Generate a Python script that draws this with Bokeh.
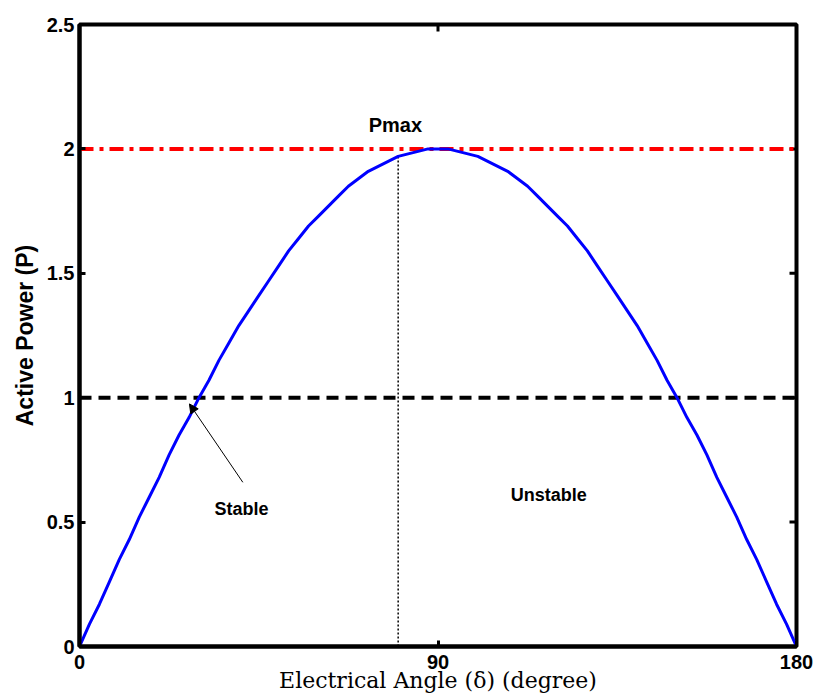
import math
from bokeh.plotting import figure
from bokeh.models import Range1d, FixedTicker, Arrow, NormalHead, Label
from bokeh.embed import file_html
from bokeh.resources import INLINE

# Data
delta_deg = [0, 2.5, 5, 7.5, 10, 12.5, 15, 17.5, 20, 22.5, 25, 27.5, 30, 32.5, 35, 37.5, 40, 42.5,
             45, 47.5, 50, 52.5, 55, 57.5, 60, 62.5, 65, 67.5, 70, 72.5, 75, 77.5, 80, 82.5, 85, 87.5,
             90, 92.5, 95, 97.5, 100, 102.5, 105, 107.5, 110, 112.5, 115, 117.5, 120, 122.5, 125, 127.5,
             130, 132.5, 135, 137.5, 140, 142.5, 145, 147.5, 150, 152.5, 155, 157.5, 160, 162.5, 165,
             167.5, 170, 172.5, 175, 177.5, 180]
power = [0.00, 0.09, 0.17, 0.26, 0.35, 0.43, 0.52, 0.60, 0.68, 0.77, 0.85, 0.92, 1.00, 1.07, 1.15, 1.22, 1.29, 1.35,
         1.41, 1.47, 1.53, 1.59, 1.64, 1.69, 1.73, 1.77, 1.81, 1.85, 1.88, 1.91, 1.93, 1.95, 1.97, 1.98, 1.99, 2.00,
         2.00, 2.00, 1.99, 1.98, 1.97, 1.95, 1.93, 1.91, 1.88, 1.85, 1.81, 1.77, 1.73, 1.69, 1.64, 1.59,
         1.53, 1.47, 1.41, 1.35, 1.29, 1.22, 1.15, 1.07, 1.00, 0.92, 0.85, 0.77, 0.68, 0.60, 0.52,
         0.43, 0.35, 0.26, 0.17, 0.09, 0.00]
pmax_level = 2.0
load_level = 1.0
marker_angle = 80
marker_power = 1.97
x_ticks = [0, 90, 180]
y_ticks = [0, 0.5, 1, 1.5, 2, 2.5]
x_label = "Electrical Angle (δ) (degree)"
y_label = "Active Power (P)"

FONT = "Liberation Sans"
X_MIN, X_MAX, Y_MIN, Y_MAX = 0, 180, 0, 2.5

p = figure(width=814, height=698, output_backend="svg", toolbar_location=None,
           x_range=Range1d(X_MIN, X_MAX), y_range=Range1d(Y_MIN, Y_MAX),
           min_border_left=79, min_border_right=18, min_border_top=24, min_border_bottom=52)
p.grid.visible = False
p.outline_line_color = "black"
p.outline_line_width = 4
p.background_fill_color = "white"
p.border_fill_color = "white"

for ax in (p.xaxis[0], p.yaxis[0]):
    ax.axis_line_width = 4
    ax.major_tick_in = 6
    ax.major_tick_out = 0
    ax.major_tick_line_width = 3
    ax.minor_tick_line_color = None
    ax.major_label_text_font = FONT
    ax.major_label_text_font_style = "bold"
    ax.major_label_text_font_size = "20px"
    ax.major_label_text_color = "black"
    ax.axis_label_text_color = "black"

p.xaxis.ticker = FixedTicker(ticks=x_ticks)
p.yaxis.ticker = FixedTicker(ticks=y_ticks)
p.xaxis.major_label_standoff = 8
p.yaxis.major_label_standoff = 5
p.xaxis.major_label_overrides = {0: "0", 90: "90", 180: "180"}
p.yaxis.major_label_overrides = {0: "0", 0.5: "0.5", 1: "1", 1.5: "1.5", 2: "2", 2.5: "2.5"}

p.xaxis.axis_label = x_label
p.xaxis.axis_label_text_font = "DejaVu Serif"
p.xaxis.axis_label_text_font_style = "normal"
p.xaxis.axis_label_text_font_size = "22px"
p.xaxis.axis_label_standoff = -4

p.yaxis.axis_label = y_label
p.yaxis.axis_label_text_font = FONT
p.yaxis.axis_label_text_font_style = "bold"
p.yaxis.axis_label_text_font_size = "23px"
p.yaxis.axis_label_standoff = 6

# inward ticks on the top and right borders (half of each dash is clipped by the frame)
p.scatter(x_ticks, [Y_MAX] * len(x_ticks), marker="dash", size=14, angle=math.pi / 2,
          line_color="black", line_width=3)
p.scatter([X_MAX] * len(y_ticks), y_ticks, marker="dash", size=14,
          line_color="black", line_width=3)

# reference lines
p.line([X_MIN, X_MAX], [pmax_level, pmax_level], color="red", line_width=4, line_dash="14 6 4 6")
p.line([X_MIN, X_MAX], [load_level, load_level], color="black", line_width=4, line_dash="12 7")
p.line([marker_angle, marker_angle], [0, marker_power], color="black", line_width=1.5, line_dash="2 2")

# power-angle curve
p.line(delta_deg, power, color="blue", line_width=3, line_join="round")

# annotations
p.add_layout(Arrow(end=NormalHead(size=9, fill_color="black", line_color="black", line_width=1),
                   x_start=41.0, y_start=0.66, x_end=27.6, y_end=0.975,
                   line_color="black", line_width=1))
for txt, x, y, size in [("Pmax", 79.3, 2.096, "20px"), ("Stable", 40.7, 0.554, "18px"),
                        ("Unstable", 117.8, 0.61, "18px")]:
    p.add_layout(Label(x=x, y=y, text=txt, text_align="center", text_baseline="middle",
                       text_font=FONT, text_font_style="bold", text_font_size=size,
                       text_color="black"))

open("out.html", "w").write(file_html(p, INLINE))
